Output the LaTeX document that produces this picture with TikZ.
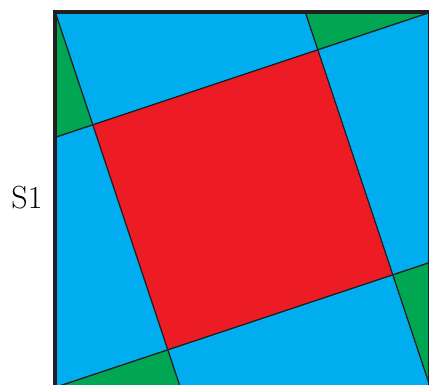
\documentclass[tikz,border=0pt]{standalone}
\definecolor{cblue}{HTML}{00AEEF}
\definecolor{cred}{HTML}{ED1C24}
\definecolor{cgreen}{HTML}{00A651}
\definecolor{cdark}{HTML}{231F20}
\tikzset{
  piece/.style={draw=cdark, line width=1pt, line join=miter},
  frame/.style={draw=cdark, line width=4pt},
}
\begin{document}
\begin{tikzpicture}[x=1pt,y=1pt]
\useasboundingbox (0,0) rectangle (429,385);
\node[font=\fontsize{32}{38}\selectfont, anchor=center] (s1) at (27,187) {S1};
\begin{scope}[shift={(55.3,372.7)}, x=125pt, y=-125pt]
  \coordinate (TL) at (0,0);
  \coordinate (TR) at (3,0);
  \coordinate (BR) at (3,3);
  \coordinate (BL) at (0,3);
  \coordinate (L1) at (0,1);
  \coordinate (T2) at (2,0);
  \coordinate (R2) at (3,2);
  \coordinate (B1) at (1,3);
  \coordinate (Q1) at (0.3,0.9);
  \coordinate (Q2) at (2.1,0.3);
  \coordinate (Q3) at (2.7,2.1);
  \coordinate (Q4) at (0.9,2.7);
  \fill[cblue] (TL) -- (TR) -- (BR) -- (BL) -- cycle;
  \path[piece, fill=cred] (Q1) -- (Q2) -- (Q3) -- (Q4) -- cycle;
  \path[piece, fill=cgreen] (TL) -- (Q1) -- (L1) -- cycle;
  \path[piece, fill=cgreen] (T2) -- (TR) -- (Q2) -- cycle;
  \path[piece, fill=cgreen] (BR) -- (Q3) -- (R2) -- cycle;
  \path[piece, fill=cgreen] (BL) -- (Q4) -- (B1) -- cycle;
  \draw[piece] (TL) -- (B1);
  \draw[piece] (L1) -- (TR);
  \draw[piece] (T2) -- (BR);
  \draw[piece] (BL) -- (R2);
  \draw[frame] (TL) -- (TR) -- (BR) -- (BL) -- cycle;
\end{scope}
\end{tikzpicture}
\end{document}
